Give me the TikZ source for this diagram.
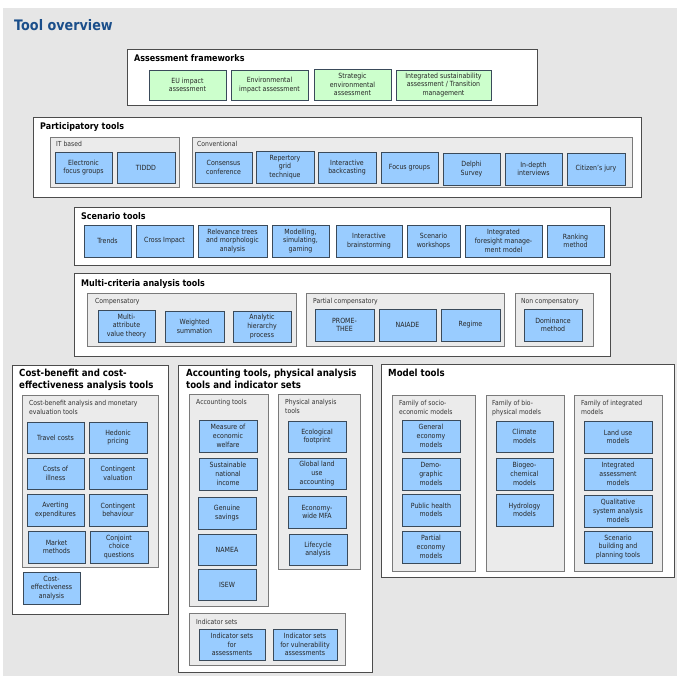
\documentclass[tikz,border=0pt]{standalone}
\usepackage{fontspec}
\setmainfont{DejaVu Sans}[FakeStretch=0.88]
\definecolor{bgc}{HTML}{E6E6E6}
\definecolor{grpc}{HTML}{EBEBEB}
\definecolor{grpline}{HTML}{7A7A7A}
\definecolor{bluef}{HTML}{99CCFF}
\definecolor{greenf}{HTML}{CCFFCC}
\definecolor{boxline}{HTML}{3A4A5A}
\definecolor{titlec}{HTML}{1A4E8A}
\tikzset{
  panel/.style={draw=black!70, fill=white, line width=0.8pt, inner sep=0pt},
  grp/.style={draw=grpline, fill=grpc, line width=0.8pt, inner sep=0pt},
  bluebox/.style={draw=boxline, fill=bluef, line width=0.8pt, inner sep=0pt, align=center, font=\fontsize{7.1}{8.7}\selectfont, text=black!85},
  greenbox/.style={bluebox, fill=greenf},
  head/.style={anchor=north west, inner sep=0pt, align=left, font=\fontsize{9.1}{11}\selectfont\bfseries},
  bighead/.style={head, font=\fontsize{9.8}{11.5}\selectfont\bfseries},
  sublab/.style={anchor=north west, inner sep=0pt, align=left, font=\fontsize{6.9}{8.6}\selectfont, text=black!80},
}
\newcommand\rbox[7]{\node[#1, minimum width={(#5-#3)*1pt}, minimum height={(#6-#4)*1pt}] (#2) at ({(#3+#5)/2},{(#4+#6)/2}) {#7};}
\begin{document}
\begin{tikzpicture}[x=1pt,y=-1pt]
\useasboundingbox (0,0) rectangle (681,676);
\fill[bgc] (3,8) rectangle (677,676);
\node[anchor=west, inner sep=0pt, text=titlec, font=\fontsize{14.5}{16}\selectfont\bfseries] (title) at (14,25) {Tool overview};

% Assessment frameworks
\rbox{panel}{af}{127}{49}{537}{105}{}
\node[head] (afh) at (134,54) {Assessment frameworks};
\rbox{greenbox}{eu}{149}{70}{226}{100}{EU impact\\assessment}
\rbox{greenbox}{eia}{231}{70}{308}{100}{Environmental\\impact assessment}
\rbox{greenbox}{sea}{314}{69}{391}{100}{Strategic\\environmental\\assessment}
\rbox{greenbox}{isa}{396}{70}{491}{100}{Integrated sustainability\\assessment / Transition\\management}

% Participatory tools
\rbox{panel}{pt}{33}{117}{641}{197}{}
\node[head] (pth) at (40,122) {Participatory tools};
\rbox{grp}{itg}{50}{137}{179}{187}{}
\node[sublab] (itl) at (56,141) {IT based};
\rbox{bluebox}{efg}{55}{152}{112}{183}{Electronic\\focus groups}
\rbox{bluebox}{tid}{117}{152}{175}{183}{TIDDD}
\rbox{grp}{cvg}{192}{137}{632}{187}{}
\node[sublab] (cvl) at (197,141) {Conventional};
\rbox{bluebox}{cc}{195}{152}{252}{183}{Consensus\\conference}
\rbox{bluebox}{rg}{256}{151}{314}{183}{Repertory\\grid\\technique}
\rbox{bluebox}{ib}{318}{152}{376}{183}{Interactive\\backcasting}
\rbox{bluebox}{fg}{381}{152}{438}{183}{Focus groups}
\rbox{bluebox}{ds}{443}{153}{500}{185}{Delphi\\Survey}
\rbox{bluebox}{idi}{505}{153}{562}{185}{In-depth\\interviews}
\rbox{bluebox}{cj}{567}{153}{625}{185}{Citizen's jury}

% Scenario tools
\rbox{panel}{st}{74}{207}{610}{265}{}
\node[head] (sth) at (81,212) {Scenario tools};
\rbox{bluebox}{tr}{84}{225}{131}{257}{Trends}
\rbox{bluebox}{ci}{136}{225}{193}{257}{Cross Impact}
\rbox{bluebox}{rt}{198}{225}{267}{257}{Relevance trees\\and morphologic\\analysis}
\rbox{bluebox}{ms}{272}{225}{329}{257}{Modelling,\\simulating,\\gaming}
\rbox{bluebox}{ibs}{336}{225}{402}{257}{Interactive\\brainstorming}
\rbox{bluebox}{sw}{407}{225}{460}{257}{Scenario\\workshops}
\rbox{bluebox}{ifm}{465}{225}{542}{257}{Integrated\\foresight manage-\\ment model}
\rbox{bluebox}{rm}{547}{225}{604}{257}{Ranking\\method}

% Multi-criteria analysis tools
\rbox{panel}{mc}{74}{273}{610}{356}{}
\node[head] (mch) at (81,279) {Multi-criteria analysis tools};
\rbox{grp}{cpg}{87}{293}{296}{346}{}
\node[sublab] (cpl) at (95,298) {Compensatory};
\rbox{bluebox}{mav}{98}{310}{155}{342}{Multi-\\attribute\\value theory}
\rbox{bluebox}{wsu}{165}{311}{224}{342}{Weighted\\summation}
\rbox{bluebox}{ahp}{233}{311}{291}{342}{Analytic\\hierarchy\\process}
\rbox{grp}{pcg}{306}{293}{504}{346}{}
\node[sublab] (pcl) at (313,298) {Partial compensatory};
\rbox{bluebox}{pro}{315}{309}{374}{341}{PROME-\\THEE}
\rbox{bluebox}{nai}{379}{309}{436}{341}{NAIADE}
\rbox{bluebox}{reg}{441}{309}{500}{341}{Regime}
\rbox{grp}{ncg}{515}{293}{593}{346}{}
\node[sublab] (ncl) at (521,298) {Non compensatory};
\rbox{bluebox}{dom}{524}{309}{582}{341}{Dominance\\method}

% Cost-benefit
\rbox{panel}{cb}{12}{365}{168}{614}{}
\node[bighead] (cbh) at (19,369) {Cost-benefit and cost-\\effectiveness analysis tools};
\rbox{grp}{cbg}{22}{395}{158}{567}{}
\node[sublab] (cbl) at (29,400) {Cost-benefit analysis and monetary\\evaluation tools};
\rbox{bluebox}{tc}{27}{422}{84}{453}{Travel costs}
\rbox{bluebox}{hp}{89}{422}{147}{453}{Hedonic\\pricing}
\rbox{bluebox}{coi}{27}{458}{84}{489}{Costs of\\illness}
\rbox{bluebox}{cv}{89}{458}{147}{489}{Contingent\\valuation}
\rbox{bluebox}{ae}{27}{494}{84}{526}{Averting\\expenditures}
\rbox{bluebox}{cbe}{89}{494}{147}{526}{Contingent\\behaviour}
\rbox{bluebox}{mm}{28}{531}{85}{563}{Market\\methods}
\rbox{bluebox}{ccq}{90}{531}{148}{563}{Conjoint\\choice\\questions}
\rbox{bluebox}{cea}{23}{572}{80}{604}{Cost-\\effectiveness\\analysis}

% Accounting tools
\rbox{panel}{ac}{178}{365}{372}{672}{}
\node[bighead] (ach) at (186,369) {Accounting tools, physical analysis\\tools and indicator sets};
\rbox{grp}{acg}{189}{394}{268}{606}{}
\node[sublab] (acl) at (196,399) {Accounting tools};
\rbox{bluebox}{mew}{199}{420}{257}{452}{Measure of\\economic\\welfare}
\rbox{bluebox}{sni}{199}{458}{257}{490}{Sustainable\\national\\income}
\rbox{bluebox}{gs}{198}{497}{256}{529}{Genuine\\savings}
\rbox{bluebox}{nam}{198}{534}{256}{565}{NAMEA}
\rbox{bluebox}{isew}{198}{569}{256}{600}{ISEW}
\rbox{grp}{pag}{278}{394}{360}{569}{}
\node[sublab] (pal) at (285,399) {Physical analysis\\tools};
\rbox{bluebox}{ef}{288}{421}{346}{452}{Ecological\\footprint}
\rbox{bluebox}{glu}{288}{458}{346}{489}{Global land\\use\\accounting}
\rbox{bluebox}{mfa}{288}{496}{346}{528}{Economy-\\wide MFA}
\rbox{bluebox}{lca}{289}{534}{347}{565}{Lifecycle\\analysis}
\rbox{grp}{isg}{189}{613}{345}{665}{}
\node[sublab] (isl) at (196,619) {Indicator sets};
\rbox{bluebox}{isa1}{199}{629}{265}{660}{Indicator sets\\for\\assessments}
\rbox{bluebox}{isv}{273}{629}{337}{660}{Indicator sets\\for vulnerability\\assessments}

% Model tools
\rbox{panel}{mt}{381}{364}{674}{577}{}
\node[bighead] (mth) at (388,369) {Model tools};
\rbox{grp}{seg}{392}{395}{475}{571}{}
\node[sublab] (sel) at (399,400) {Family of socio-\\economic models};
\rbox{bluebox}{gem}{402}{420}{460}{452}{General\\economy\\models}
\rbox{bluebox}{dem}{402}{458}{460}{490}{Demo-\\graphic\\models}
\rbox{bluebox}{phm}{402}{494}{460}{526}{Public health\\models}
\rbox{bluebox}{pem}{402}{531}{460}{563}{Partial\\economy\\models}
\rbox{grp}{bpg}{486}{395}{564}{571}{}
\node[sublab] (bpl) at (492,400) {Family of bio-\\physical models};
\rbox{bluebox}{clm}{496}{421}{553}{452}{Climate\\models}
\rbox{bluebox}{bgc}{496}{458}{553}{490}{Biogeo-\\chemical\\models}
\rbox{bluebox}{hym}{496}{494}{553}{526}{Hydrology\\models}
\rbox{grp}{ing}{574}{395}{662}{571}{}
\node[sublab] (inl) at (581,400) {Family of integrated\\models};
\rbox{bluebox}{lum}{584}{421}{652}{453}{Land use\\models}
\rbox{bluebox}{iam}{584}{458}{652}{490}{Integrated\\assessment\\models}
\rbox{bluebox}{qsa}{584}{495}{652}{527}{Qualitative\\system analysis\\models}
\rbox{bluebox}{sbp}{584}{531}{652}{563}{Scenario\\building and\\planning tools}
\end{tikzpicture}
\end{document}
